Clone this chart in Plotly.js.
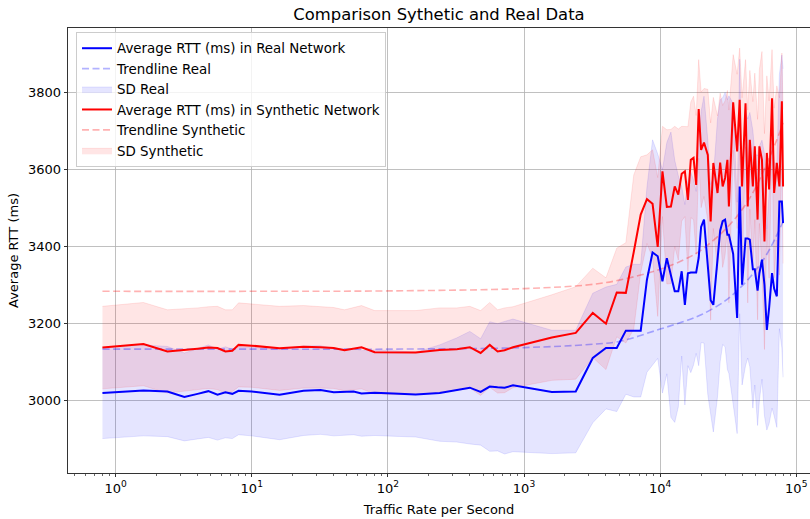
<!DOCTYPE html>
<html><head><meta charset="utf-8">
<script src="https://cdn.plot.ly/plotly-3.0.1.min.js"></script>
<style>html,body{margin:0;padding:0;background:#fff}#chart{width:810px;height:519px}</style>
</head><body><div id="chart"></div>
<script>
// Traffic rate (per second) sample points
const rate = [0.8,1.6,2.4,3.2,4.0,4.8,5.6,6.4,7.2,8,10,16,24,32,40,48,56,64,80,110,160,240,320,400,480,560,640,720,830,1600,2400,3200,4000,4800,5600,6400,7200,
  8000,8800,9600,10400,11200,12000,12800,13600,14400,15200,16000,16800,17600,18400,19200,20000,21000,22400,23500,24600,26400,27600,28800,30000,31200,32000,34400,36800,38400,40000,42400,44000,45600,48000,49600,52000,53600,56000,58400,60800,63200,66400,68800,72000,75200,78400,80000];

// Average RTT (ms) in Real Network
const rttReal = [3019,3026,3023,3009,3017,3024,3015,3021,3017,3025,3023,3015,3025,3027,3021,3022,3023,3018,3020,3018,3015,3019,3027,3033,3022,3036,3034,3033,3039,3022,3023,3110,3136,3136,3181,3181,3181,
  3313,3384,3374,3309,3369,3326,3283,3283,3335,3248,3330,3332,3332,3332,3370,3450,3469,3345,3260,3248,3370,3440,3465,3469,3430,3430,3380,3214,3555,3300,3420,3420,3417,3340,3340,3285,3330,3365,3300,3183,3240,3330,3290,3270,3516,3516,3460];

// Standard deviation, Real Network
const sdReal = [118,118,117,114,117,120,118,118,116,114,115,117,116,115,113,112,112,111,111,111,110,125,135,146,138,168,165,172,172,160,159,168,158,165,165,172,172,
  240,292,265,290,300,370,340,300,220,260,240,260,240,210,280,300,320,330,300,330,360,340,320,330,350,360,390,300,330,260,330,310,330,360,300,350,330,310,340,260,300,350,330,340,330,380,400];

// Average RTT (ms) in Synthetic Network
const rttSyn = [3137,3146,3127,3130,3134,3137,3136,3127,3129,3144,3142,3135,3139,3138,3136,3130,3134,3138,3125,3124,3124,3131,3133,3138,3123,3144,3127,3130,3138,3163,3175,3227,3199,3280,3279,3385,3482,
  3522,3510,3398,3594,3502,3503,3555,3534,3588,3594,3520,3624,3629,3559,3756,3650,3669,3637,3464,3616,3538,3617,3555,3577,3624,3503,3773,3646,3780,3555,3771,3503,3676,3555,3659,3469,3659,3624,3412,3642,3547,3784,3538,3616,3555,3776,3555];

// Standard deviation, Synthetic Network
const sdSyn = [107,108,108,107,106,106,108,108,106,109,108,109,107,106,105,105,106,108,108,109,109,109,107,106,110,110,108,110,105,111,120,116,119,115,130,200,150,
  115,140,180,117,200,200,156,170,123,117,190,150,160,180,128,150,140,170,256,170,200,180,210,200,180,250,124,200,134,230,113,250,180,220,190,260,200,281,280,200,230,126,220,200,230,125,200];

// Trendlines
const trendRate = [0.8,10,100,1000,3000,5000,10000,15000,20000,30000,40000,50000,60000,70000,80000];
const trendReal = [3133,3133,3133,3137,3145,3153,3185,3205,3222,3258,3297,3336,3376,3420,3464];
const trendSyn  = [3283,3283,3284,3290,3300,3312,3340,3365,3390,3443,3495,3550,3610,3665,3720];

// Axis ticks
const xTickVals = [1,10,100,1000,10000,100000];
const xTickText = ['10<sup>0</sup>','10<sup>1</sup>','10<sup>2</sup>','10<sup>3</sup>','10<sup>4</sup>','10<sup>5</sup>'];
const yTickVals = [3000,3200,3400,3600,3800];

const minorTicks = [];
for (let d = -1; d <= 5; d++) for (let k = 2; k <= 9; k++) minorTicks.push(k * Math.pow(10, d));

const lower = (m, s) => m.map((v, i) => v - s[i]);
const upper = (m, s) => m.map((v, i) => v + s[i]);

const FONT = 'DejaVu Sans, Verdana, sans-serif';
const blueFill = 'rgba(0,0,255,0.1)';
const redFill = 'rgba(255,0,0,0.1)';

const traces = [
  {x: rate, y: lower(rttReal, sdReal), mode: 'lines', line: {color: blueFill, width: 1}, showlegend: false, hoverinfo: 'skip'},
  {x: rate, y: upper(rttReal, sdReal), mode: 'lines', fill: 'tonexty', fillcolor: blueFill, line: {color: blueFill, width: 1}, name: 'SD Real', legendrank: 3},
  {x: rate, y: lower(rttSyn, sdSyn), mode: 'lines', line: {color: redFill, width: 1}, showlegend: false, hoverinfo: 'skip'},
  {x: rate, y: upper(rttSyn, sdSyn), mode: 'lines', fill: 'tonexty', fillcolor: redFill, line: {color: redFill, width: 1}, name: 'SD Synthetic', legendrank: 6},
  {x: trendRate, y: trendReal, mode: 'lines', line: {color: 'rgba(0,0,255,0.3)', width: 1.6, dash: '7px,3.5px', shape: 'spline'}, name: 'Trendline Real', legendrank: 2},
  {x: trendRate, y: trendSyn, mode: 'lines', line: {color: 'rgba(255,0,0,0.3)', width: 1.6, dash: '7px,3.5px', shape: 'spline'}, name: 'Trendline Synthetic', legendrank: 5},
  {x: rate, y: rttReal, mode: 'lines', line: {color: '#0000ff', width: 2}, name: 'Average RTT (ms) in Real Network', legendrank: 1},
  {x: rate, y: rttSyn, mode: 'lines', line: {color: '#ff0000', width: 2}, name: 'Average RTT (ms) in Synthetic Network', legendrank: 4}
];

const layout = {
  width: 810, height: 519,
  margin: {l: 68, r: 0, t: 28, b: 46},
  paper_bgcolor: '#ffffff', plot_bgcolor: '#ffffff',
  font: {family: FONT, size: 13, color: '#000000'},
  title: {text: 'Comparison Sythetic and Real Data', font: {family: FONT, size: 16.4, color: '#000'}, x: 0.5, xref: 'paper', xanchor: 'center', y: 1 - 14/519, yref: 'container', yanchor: 'middle'},
  showlegend: true,
  legend: {x: 0.0108, y: 0.991, xanchor: 'left', yanchor: 'top', bgcolor: 'rgba(255,255,255,0.8)', bordercolor: '#cccccc', borderwidth: 1, font: {family: FONT, size: 13.4, color: '#000'}, traceorder: 'normal', tracegroupgap: 0},
  xaxis: {
    type: 'log', range: [-0.350, 5.101], autorange: false,
    tickmode: 'array', tickvals: xTickVals, ticktext: xTickText,
    ticks: 'outside', ticklen: 3.5, tickwidth: 0.8, tickcolor: '#000',
    showgrid: true, gridcolor: '#b0b0b0', gridwidth: 0.8,
    showline: true, linecolor: '#000', linewidth: 0.8, mirror: true, zeroline: false,
    minor: {tickmode: 'array', tickvals: minorTicks, ticks: 'outside', ticklen: 2, tickwidth: 0.6, tickcolor: '#000', showgrid: false},
    tickfont: {family: FONT, size: 13, color: '#000'},
    title: {text: 'Traffic Rate per Second', font: {family: FONT, size: 13, color: '#000'}, standoff: 9},
    automargin: false
  },
  yaxis: {
    range: [2811.7, 3966], autorange: false,
    tickmode: 'array', tickvals: yTickVals,
    ticks: 'outside', ticklen: 3.5, tickwidth: 0.8, tickcolor: '#000',
    showgrid: true, gridcolor: '#b0b0b0', gridwidth: 0.8,
    showline: true, linecolor: '#000', linewidth: 0.8, mirror: false, zeroline: false,
    tickfont: {family: FONT, size: 13, color: '#000'},
    title: {text: 'Average RTT (ms)', font: {family: FONT, size: 13, color: '#000'}, standoff: 6},
    automargin: false
  }
};

Plotly.newPlot('chart', traces, layout, {staticPlot: true, displayModeBar: false});
</script></body></html>
